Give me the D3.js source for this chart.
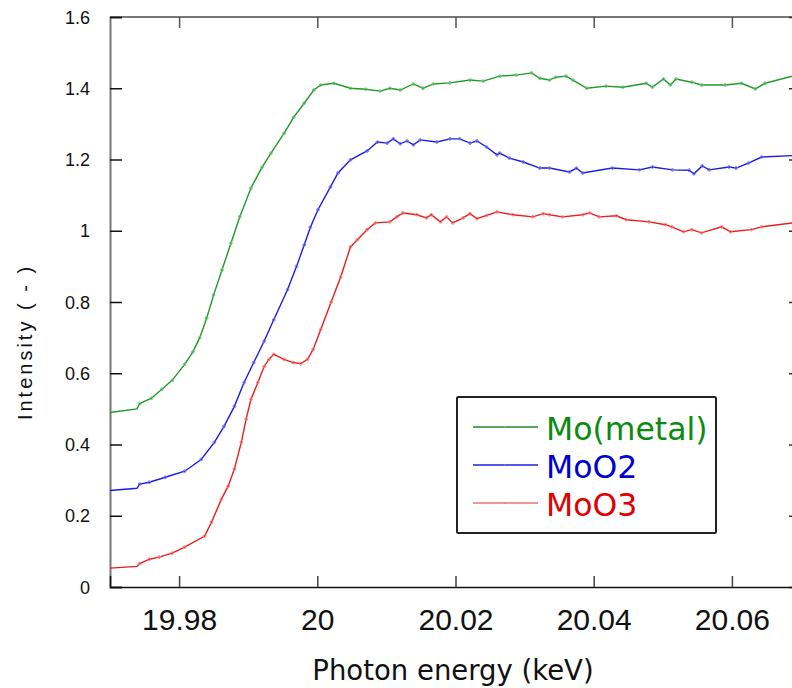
<!DOCTYPE html>
<html>
<head>
    <meta charset="UTF-8">
    <title>Mo K-edge XANES</title>
    <script src="https://d3js.org/d3.v7.min.js"></script>
    <style>
        body { margin: 0; background: #fff; }
        text { font-family: "Liberation Sans", Arial, sans-serif; }
    </style>
</head>
<body>
    <svg id="chart" width="792" height="688"></svg>
    <script>
        // series data (energy in keV, intensity)
        var metalE = [19.9700, 19.9739, 19.9743, 19.9760, 19.9775, 19.9790, 19.9808, 19.9820, 19.9830, 19.9840,
            19.9850, 19.9862, 19.9875, 19.9888, 19.9904, 19.9920, 19.9933, 19.9952, 19.9966, 19.9981, 19.9995,
            20.0005, 20.0024, 20.0048, 20.0070, 20.0091, 20.0105, 20.0120, 20.0139, 20.0153, 20.0168,
            20.0192, 20.0221, 20.0240, 20.0264, 20.0288, 20.0310, 20.0322, 20.0336, 20.0345, 20.0360,
            20.0370, 20.0390, 20.0418, 20.0442, 20.0476, 20.0485, 20.0501, 20.0511, 20.0519, 20.0542,
            20.0556, 20.0590, 20.0614, 20.0634, 20.0648, 20.0700];
        var metalI = [0.490, 0.500, 0.515, 0.530, 0.555, 0.580, 0.625, 0.660, 0.700, 0.755,
            0.820, 0.890, 0.965, 1.040, 1.120, 1.178, 1.218, 1.274, 1.319, 1.358, 1.395,
            1.409, 1.414, 1.400, 1.397, 1.392, 1.400, 1.395, 1.412, 1.400, 1.412,
            1.415, 1.423, 1.420, 1.434, 1.437, 1.443, 1.428, 1.423, 1.431, 1.434,
            1.423, 1.400, 1.406, 1.403, 1.414, 1.403, 1.426, 1.409, 1.426, 1.417,
            1.409, 1.409, 1.414, 1.398, 1.414, 1.440];

        var moo2E = [19.9700, 19.9739, 19.9743, 19.9757, 19.9780, 19.9808, 19.9832, 19.9851, 19.9865, 19.9880,
            19.9894, 19.9908, 19.9923, 19.9937, 19.9957, 19.9970, 19.9981, 19.9990, 20.0001, 20.0019,
            20.0030, 20.0048, 20.0072, 20.0087, 20.0101, 20.0110, 20.0120, 20.0130, 20.0139, 20.0149,
            20.0173, 20.0192, 20.0206, 20.0221, 20.0231, 20.0245, 20.0260, 20.0264, 20.0278, 20.0298,
            20.0322, 20.0336, 20.0365, 20.0375, 20.0384, 20.0427, 20.0466, 20.0485, 20.0514, 20.0538,
            20.0545, 20.0557, 20.0567, 20.0596, 20.0606, 20.0624, 20.0643, 20.0700];
        var moo2I = [0.271, 0.277, 0.289, 0.294, 0.308, 0.325, 0.358, 0.406, 0.451, 0.507,
            0.574, 0.630, 0.690, 0.750, 0.835, 0.900, 0.960, 1.010, 1.059, 1.123,
            1.162, 1.199, 1.224, 1.249, 1.246, 1.258, 1.244, 1.252, 1.241, 1.255,
            1.249, 1.258, 1.258, 1.246, 1.252, 1.235, 1.213, 1.218, 1.204, 1.193,
            1.176, 1.176, 1.165, 1.176, 1.162, 1.176, 1.171, 1.179, 1.171, 1.170,
            1.160, 1.182, 1.171, 1.179, 1.176, 1.190, 1.207, 1.212];

        var moo3E = [19.9700, 19.9739, 19.9743, 19.9757, 19.9771, 19.9790, 19.9808, 19.9837, 19.9847, 19.9861,
            19.9871, 19.9880, 19.9890, 19.9897, 19.9904, 19.9914, 19.9923, 19.9930, 19.9937, 19.9952,
            19.9965, 19.9976, 19.9986, 19.9994, 20.0005, 20.0020, 20.0034, 20.0048, 20.0058, 20.0072,
            20.0084, 20.0105, 20.0115, 20.0124, 20.0144, 20.0158, 20.0165, 20.0178, 20.0187, 20.0196,
            20.0211, 20.0221, 20.0231, 20.0245, 20.0260, 20.0283, 20.0312, 20.0327, 20.0336, 20.0355,
            20.0384, 20.0394, 20.0408, 20.0433, 20.0447, 20.0480, 20.0504, 20.0513, 20.0530, 20.0542,
            20.0556, 20.0585, 20.0598, 20.0628, 20.0643, 20.0700];
        var moo3I = [0.053, 0.058, 0.066, 0.078, 0.084, 0.095, 0.112, 0.143, 0.182, 0.246,
            0.283, 0.331, 0.406, 0.471, 0.527, 0.574, 0.619, 0.639, 0.653, 0.639,
            0.630, 0.627, 0.639, 0.667, 0.723, 0.800, 0.871, 0.955, 0.975, 1.003,
            1.022, 1.025, 1.039, 1.050, 1.045, 1.036, 1.045, 1.025, 1.039, 1.022,
            1.036, 1.048, 1.034, 1.043, 1.053, 1.045, 1.039, 1.048, 1.045, 1.039,
            1.045, 1.050, 1.039, 1.042, 1.031, 1.025, 1.017, 1.011, 0.997, 1.003,
            0.994, 1.011, 0.997, 1.003, 1.011, 1.025];

        var seriesNames = ["Mo(metal)", "MoO2", "MoO3"];
        var xTicks = [19.98, 20, 20.02, 20.04, 20.06];
        var yTicks = [0, 0.2, 0.4, 0.6, 0.8, 1, 1.2, 1.4, 1.6];

        var series = [
            { name: seriesNames[0], e: metalE, v: metalI, color: "#1f9a2a", mark: "#6cc070", text: "#0b8a12", legend: "#1f8a2a" },
            { name: seriesNames[1], e: moo2E, v: moo2I, color: "#1c1ce6", mark: "#7070f0", text: "#0000d4", legend: "#2020e0" },
            { name: seriesNames[2], e: moo3E, v: moo3I, color: "#ea1c1c", mark: "#f07a7a", text: "#e00000", legend: "#e87575" }
        ];

        var svg = d3.select("#chart");
        var pLeft = 110, pRight = 801, pTop = 17, pBottom = 587;

        var x = d3.scaleLinear().domain([19.97, 20.07]).range([pLeft, pRight]);
        var y = d3.scaleLinear().domain([0, 1.6]).range([pBottom, pTop]);

        svg.append("defs").append("clipPath").attr("id", "plotclip")
            .append("rect").attr("x", pLeft).attr("y", pTop)
            .attr("width", pRight - pLeft).attr("height", pBottom - pTop);

        // frame
        svg.append("line").attr("x1", pLeft).attr("x2", pRight).attr("y1", pTop).attr("y2", pTop)
            .attr("stroke", "#777").attr("stroke-width", 2);
        svg.append("line").attr("x1", pRight).attr("x2", pRight).attr("y1", pTop).attr("y2", pBottom)
            .attr("stroke", "#333").attr("stroke-width", 1.5);

        // axes
        var yAxis = d3.axisRight(y).tickValues(yTicks).tickSize(12).tickFormat(d3.format("~g"));
        var gy = svg.append("g").attr("transform", "translate(" + pLeft + ",0)").call(yAxis);
        gy.select(".domain").attr("stroke", "#777").attr("stroke-width", 2);
        gy.selectAll(".tick line").attr("stroke", "#111").attr("stroke-width", 1.5);
        gy.selectAll(".tick text").attr("x", -20).attr("text-anchor", "end")
            .attr("font-size", 18).attr("fill", "#111").attr("dy", "0.34em");

        var yRight = d3.axisLeft(y).tickValues(yTicks).tickSize(12).tickFormat("");
        var gyr = svg.append("g").attr("transform", "translate(" + pRight + ",0)").call(yRight);
        gyr.select(".domain").remove();
        gyr.selectAll(".tick line").attr("stroke", "#333").attr("stroke-width", 1.5);

        var xAxis = d3.axisTop(x).tickValues(xTicks).tickSize(11).tickFormat(d3.format("~g"));
        var gx = svg.append("g").attr("transform", "translate(0," + pBottom + ")").call(xAxis);
        gx.select(".domain").attr("stroke", "#111").attr("stroke-width", 1.5);
        gx.selectAll(".tick line").attr("stroke", "#444").attr("stroke-width", 1.5);
        gx.selectAll(".tick text").attr("y", 43).attr("dy", 0)
            .attr("font-size", 30).attr("fill", "#111");

        var xTop = d3.axisBottom(x).tickValues(xTicks).tickSize(11).tickFormat("");
        var gxt = svg.append("g").attr("transform", "translate(0," + pTop + ")").call(xTop);
        gxt.select(".domain").remove();
        gxt.selectAll(".tick line").attr("stroke", "#555").attr("stroke-width", 1.5);

        // axis titles
        svg.append("text").attr("x", 453).attr("y", 680).attr("text-anchor", "middle")
            .style("font-family", "'DejaVu Sans', sans-serif")
            .attr("font-size", 27.5).attr("fill", "#111").text("Photon energy (keV)");
        svg.append("text").attr("transform", "translate(32,342) rotate(-90)")
            .attr("text-anchor", "middle").attr("font-size", 20).attr("letter-spacing", 3)
            .attr("fill", "#111").text("Intensity ( - )");

        // curves
        var plot = svg.append("g").attr("clip-path", "url(#plotclip)");
        series.forEach(function(s) {
            var pts = s.e.map(function(e, i) { return [e, s.v[i]]; });
            var line = d3.line().x(function(d) { return x(d[0]); }).y(function(d) { return y(d[1]); });
            plot.append("path").datum(pts).attr("d", line)
                .attr("fill", "none").attr("stroke", s.color).attr("stroke-width", 1.4);
            plot.selectAll(null).data(pts.slice(2, pts.length - 1)).enter().append("circle")
                .attr("cx", function(d) { return x(d[0]); })
                .attr("cy", function(d) { return y(d[1]); })
                .attr("r", 1.4).attr("fill", "none")
                .attr("stroke", s.mark).attr("stroke-width", 0.9);
        });

        // legend
        var lg = svg.append("g");
        lg.append("rect").attr("x", 457).attr("y", 397).attr("width", 259).attr("height", 136)
            .attr("fill", "#fff").attr("stroke", "#222").attr("stroke-width", 2).attr("rx", 1.5);
        series.forEach(function(s, i) {
            var ly = 427 + i * 38;
            lg.append("line").attr("x1", 473).attr("x2", 538).attr("y1", ly).attr("y2", ly)
                .attr("stroke", s.legend).attr("stroke-width", 1.5);
            lg.append("circle").attr("cx", 505).attr("cy", ly).attr("r", 1).attr("fill", s.mark);
            lg.append("text").attr("x", 546).attr("y", ly + 13)
                .style("font-family", "'DejaVu Sans', sans-serif").attr("font-size", 31.5)
                .attr("fill", s.text).text(s.name);
        });
    </script>
</body>
</html>
